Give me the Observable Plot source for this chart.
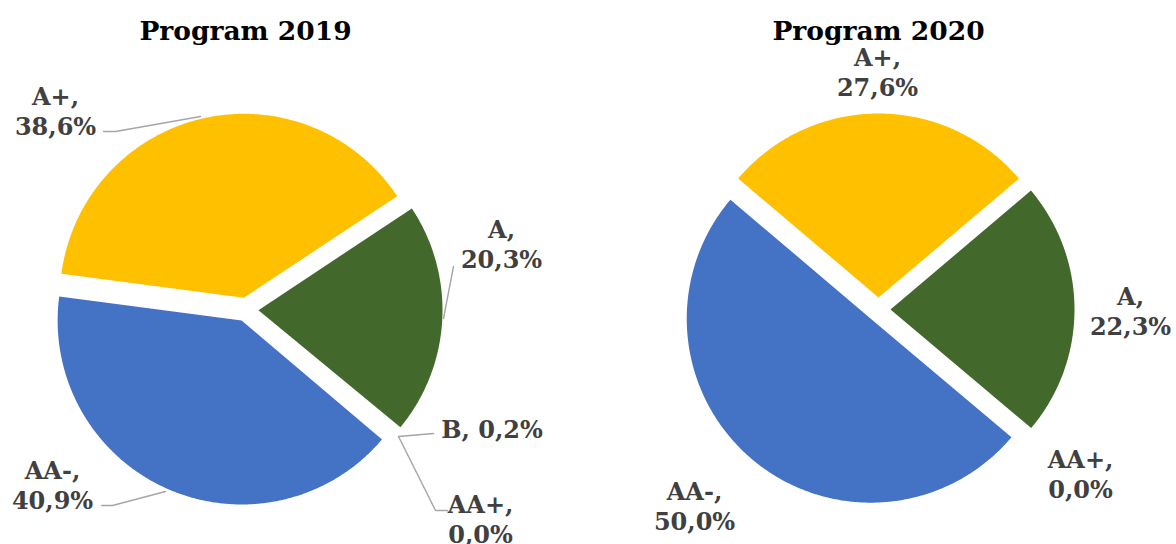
<!DOCTYPE html>
<html>
<head>
<meta charset="utf-8">
<script src="https://cdn.jsdelivr.net/npm/d3@7"></script>
<script src="https://cdn.jsdelivr.net/npm/@observablehq/plot@0.6"></script>
<style>
  html, body { margin: 0; padding: 0; background: #ffffff; }
  #chart { width: 1176px; height: 544px; }
</style>
</head>
<body>
<div id="chart"></div>
<script>
// ---- data ----
const titles = ["Program 2019", "Program 2020"];
const categories2019 = ["A+", "A", "B", "AA+", "AA-"];
const values2019 = [38.6, 20.3, 0.2, 0.0, 40.9];
const categories2020 = ["A+", "A", "AA+", "AA-"];
const values2020 = [27.6, 22.3, 0.0, 50.0];

// ---- styles ----
const ratingNames = ["A+", "A", "B", "AA+", "AA-"];
const ratingColors = ["#FFC000", "#43682B", "#FFFFFF", "#ED7D31", "#4472C4"];
const FONT = "DejaVu Serif";
const LABEL_COLOR = "#404040";
const LEADER_COLOR = "#A6A6A6";

// ---- layout (pixels) ----
const W = 1176, H = 544;
const R = 184, EXPLODE = 12;
const pies = [
  {title: titles[0], cats: categories2019, vals: values2019, cx: 246, cy: 309, startDeg: -82.5},
  {title: titles[1], cats: categories2020, vals: values2020, cx: 878, cy: 309, startDeg: -49.7}
];
const titlePos = [{x: 245, y: 31}, {x: 878, y: 31}];
// label block centres, per pie and category
const labelPos = [
  {"A+": [55, 109.5], "A": [501, 242.5], "B": [491.5, 427.5, true], "AA+": [480, 517.5], "AA-": [52, 483.5]},
  {"A+": [877, 71], "A": [1130, 310], "AA+": [1080, 472.5], "AA-": [694, 505]}
];
// leader lines (pie index, category, points)
const leaders = [
  {pie: 0, cat: "A+", pts: [[103, 131], [115, 131], [200, 116]]},
  {pie: 0, cat: "A", pts: [[453, 266], [443, 318]]},
  {pie: 0, cat: "B", pts: [[433, 433], [398, 436]]},
  {pie: 0, cat: "AA+", pts: [[398, 436], [435, 510], [447, 510]]},
  {pie: 0, cat: "AA-", pts: [[101, 505], [112, 505], [165, 491]]}
];

// ---- build slice polygons ----
const slicePts = [];
pies.forEach((p, pi) => {
  const s = p.startDeg * Math.PI / 180;
  const arcs = d3.pie().sort(null).startAngle(s).endAngle(s + 2 * Math.PI)
    .value((d, i) => p.vals[i])(p.cats);
  arcs.forEach(a => {
    if (a.endAngle - a.startAngle <= 1e-9) return;
    const mid = (a.startAngle + a.endAngle) / 2;
    const ox = p.cx + EXPLODE * Math.sin(mid);
    const oy = p.cy - EXPLODE * Math.cos(mid);
    const key = pi + "-" + a.data;
    slicePts.push({key, cat: a.data, x: ox, y: oy});
    const n = Math.max(2, Math.ceil((a.endAngle - a.startAngle) / (Math.PI / 360)));
    for (let k = 0; k <= n; k++) {
      const t = a.startAngle + (a.endAngle - a.startAngle) * k / n;
      slicePts.push({key, cat: a.data, x: ox + R * Math.sin(t), y: oy - R * Math.cos(t)});
    }
  });
});

const fmt = v => v.toFixed(1).replace(".", ",") + "%";
const labels = [];
pies.forEach((p, pi) => {
  p.cats.forEach((c, i) => {
    const pos = labelPos[pi][c];
    if (!pos) return;
    labels.push({x: pos[0], y: pos[1], text: pos[2] ? `${c}, ${fmt(p.vals[i])}` : `${c},\n${fmt(p.vals[i])}`});
  });
});
const titleData = pies.map((p, i) => ({x: titlePos[i].x, y: titlePos[i].y, text: p.title}));
const leaderPts = leaders.flatMap((l, i) => l.pts.map(([x, y]) => ({id: i, x, y})));

const chart = Plot.plot({
  width: W,
  height: H,
  margin: 0,
  x: {domain: [0, W], range: [0, W], axis: null},
  y: {domain: [0, H], range: [0, H], axis: null},
  color: {domain: ratingNames, range: ratingColors},
  style: {background: "#ffffff"},
  marks: [
    Plot.line(slicePts, {x: "x", y: "y", z: "key", fill: "cat", stroke: "none", curve: "linear-closed"}),
    Plot.line(leaderPts, {x: "x", y: "y", z: "id", stroke: LEADER_COLOR, strokeWidth: 1.4}),
    Plot.text(labels, {x: "x", y: "y", text: "text", fontFamily: FONT, fontWeight: "bold", fontSize: 24,
      fill: LABEL_COLOR, lineHeight: 1.25, lineAnchor: "middle", textAnchor: "middle"}),
    Plot.text(titleData, {x: "x", y: "y", text: "text", fontFamily: FONT, fontWeight: "bold", fontSize: 26.5,
      fill: "#000000", lineAnchor: "middle", textAnchor: "middle"})
  ]
});
document.getElementById("chart").appendChild(chart);
</script>
</body>
</html>
